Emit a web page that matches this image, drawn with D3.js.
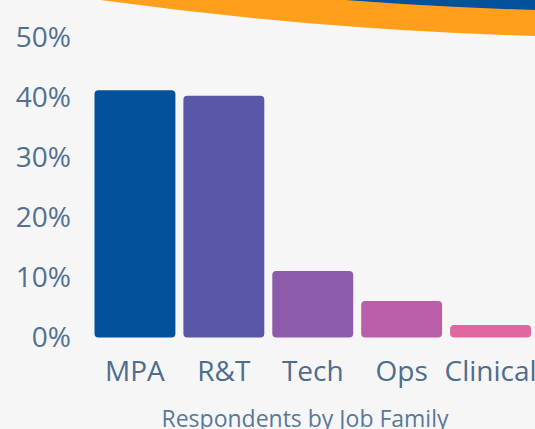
<!DOCTYPE html>
<html>
<head>
<meta charset="utf-8">
<script src="https://cdn.jsdelivr.net/npm/d3@7"></script>
<style>
  html, body { margin: 0; padding: 0; background: #f6f6f6; }
  svg { display: block; font-family: "Open Sans", sans-serif; }
</style>
</head>
<body>
<div id="chart"></div>
<script>
// values
var families = ["MPA", "R&T", "Tech", "Ops", "Clinical"];
var shares = [41.2, 40.3, 11.1, 6.1, 2.1];
var barColors = ["#01529b", "#5957a8", "#8c5bab", "#bb5eaa", "#e0679f"];
var yTicks = [0, 10, 20, 30, 40, 50];

var width = 535, height = 429;

var svg = d3.select("#chart").append("svg")
    .attr("width", width)
    .attr("height", height);

svg.append("rect")
    .attr("width", width)
    .attr("height", height)
    .attr("fill", "#f6f6f6");

// decorative ring clipped at the top
var ringCx = 650, ringR = 4033, ringBottom = 37.6;
svg.append("circle")
    .attr("cx", ringCx)
    .attr("cy", ringBottom - ringR)
    .attr("r", ringR)
    .attr("fill", "#ff9f1c");
svg.append("circle")
    .attr("cx", ringCx)
    .attr("cy", ringBottom - ringR)
    .attr("r", ringR - 26)
    .attr("fill", "#01529b");

var x = d3.scaleBand()
    .domain(families)
    .range([90.5, 535])
    .paddingInner(0.09)
    .paddingOuter(0.045);

var y = d3.scaleLinear()
    .domain([0, 50])
    .range([337.5, 37.5]);

// y axis labels only
var yAxis = d3.axisLeft(y)
    .tickValues(yTicks)
    .tickSize(0)
    .tickPadding(0)
    .tickFormat(function (d) { return d + "%"; });

svg.append("g")
    .attr("transform", "translate(71,0)")
    .call(yAxis)
    .call(function (g) { g.select(".domain").remove(); })
    .selectAll("text")
    .attr("font-size", 28)
    .attr("font-family", "Open Sans, sans-serif")
    .attr("fill", "#52708f");

// bars
svg.append("g").selectAll("rect")
    .data(families)
    .enter()
    .append("rect")
    .attr("x", function (d) { return x(d); })
    .attr("y", function (d, i) { return y(shares[i]); })
    .attr("width", x.bandwidth())
    .attr("height", function (d, i) { return y(0) - y(shares[i]); })
    .attr("rx", 4)
    .attr("fill", function (d, i) { return barColors[i]; });

// x axis labels
var xAxis = d3.axisBottom(x).tickSize(0).tickPadding(0);
svg.append("g")
    .attr("transform", "translate(0,361)")
    .call(xAxis)
    .call(function (g) { g.select(".domain").remove(); })
    .selectAll("text")
    .attr("dy", "0.71em")
    .attr("font-size", 28)
    .attr("font-family", "Open Sans, sans-serif")
    .attr("fill", "#4f6d8c");

svg.append("text")
    .attr("x", 305)
    .attr("y", 427)
    .attr("text-anchor", "middle")
    .attr("font-size", 23)
    .attr("fill", "#5a7896")
    .text("Respondents by Job Family");
</script>
</body>
</html>
